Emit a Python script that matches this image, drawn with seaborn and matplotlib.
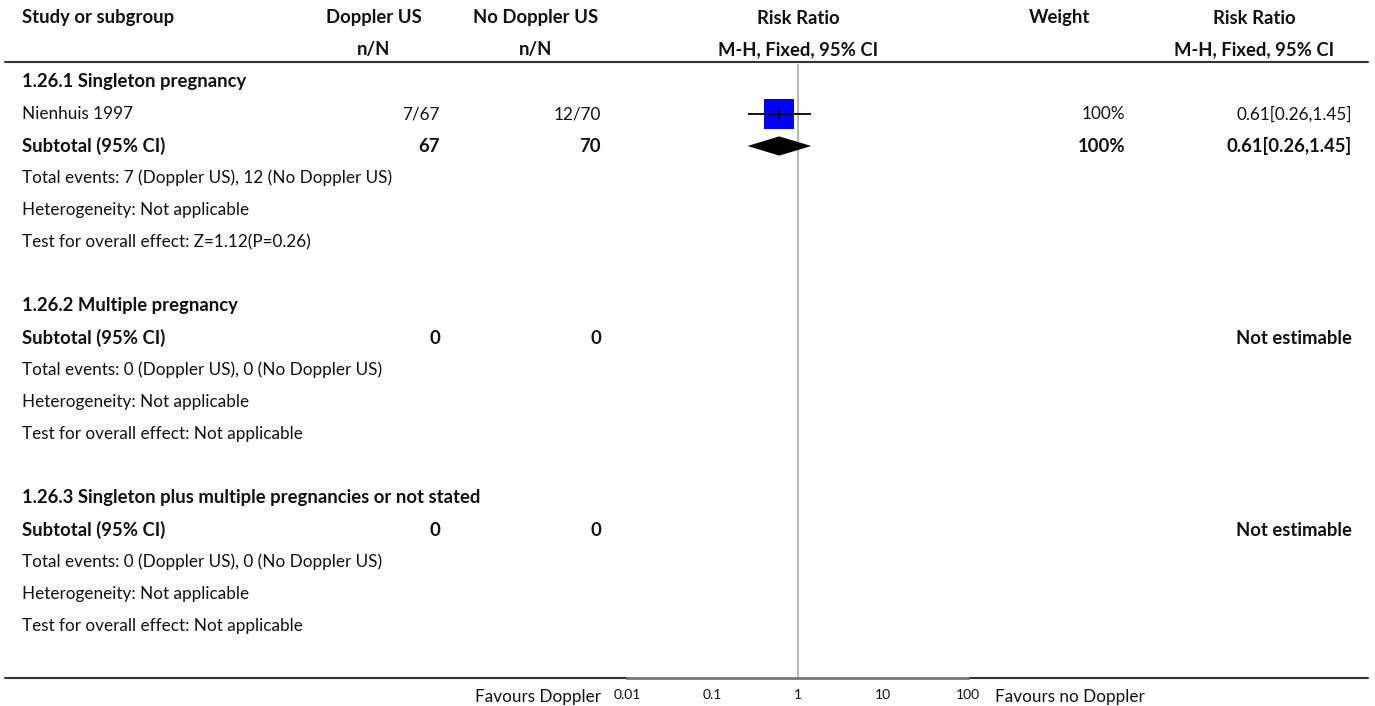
import numpy as np
import pandas as pd
import seaborn as sns
import matplotlib.pyplot as plt

# Datos del forest plot (filas de la tabla)
labels = ["1.26.1 Singleton pregnancy", "Nienhuis 1997", "Subtotal (95% CI)",
          "Total events: 7 (Doppler US), 12 (No Doppler US)",
          "Heterogeneity: Not applicable",
          "Test for overall effect: Z=1.12(P=0.26)", "",
          "1.26.2 Multiple pregnancy", "Subtotal (95% CI)",
          "Total events: 0 (Doppler US), 0 (No Doppler US)",
          "Heterogeneity: Not applicable",
          "Test for overall effect: Not applicable", "",
          "1.26.3 Singleton plus multiple pregnancies or not stated", "Subtotal (95% CI)",
          "Total events: 0 (Doppler US), 0 (No Doppler US)",
          "Heterogeneity: Not applicable",
          "Test for overall effect: Not applicable"]
bold = [1, 0, 1, 0, 0, 0, 0, 1, 1, 0, 0, 0, 0, 1, 1, 0, 0, 0]
doppler = ["", "7/67", "67", "", "", "", "", "", "0", "", "", "", "", "", "0", "", "", ""]
no_doppler = ["", "12/70", "70", "", "", "", "", "", "0", "", "", "", "", "", "0", "", "", ""]
weight = ["", "100%", "100%", "", "", "", "", "", "", "", "", "", "", "", "", "", "", ""]
rr_text = ["", "0.61[0.26,1.45]", "0.61[0.26,1.45]", "", "", "", "", "",
           "Not estimable", "", "", "", "", "", "Not estimable", "", "", ""]

# estudios individuales
study_row = [1]
study_rr = [0.61]
study_lo = [0.26]
study_hi = [1.45]
study_w = [100]

# subtotales (diamante)
sub_row = [2]
sub_rr = [0.61]
sub_lo = [0.26]
sub_hi = [1.45]

ticks = [0.01, 0.1, 1, 10, 100]
tick_labels = ["0.01", "0.1", "1", "10", "100"]

sns.set_style("white")
plt.rcParams['font.family'] = ['Lato', 'DejaVu Sans']

W, H = 1375, 706
fig = plt.figure(figsize=(W / 100, H / 100), dpi=100)

# ejes de fondo en pixeles para la tabla
ax = fig.add_axes([0, 0, 1, 1])
ax.set_xlim(0, W)
ax.set_ylim(H, 0)
ax.axis('off')

fs = 12.3     # texto normal
fsb = 13.3    # texto en negrita
txt = '#111111'
row_y = lambda i: 82 + 32 * i

# cabecera
ax.text(22, 18, "Study or subgroup", fontsize=fsb, weight='bold', va='center', color=txt)
for cx, l1, l2 in [(374, "Doppler US", "n/N"), (536, "No Doppler US", "n/N"),
                   (798, "Risk Ratio", "M-H, Fixed, 95% CI"), (1060, "Weight", ""),
                   (1254, "Risk Ratio", "M-H, Fixed, 95% CI")]:
    ax.text(cx, 18, l1, fontsize=fsb, weight='bold', ha='center', va='center', color=txt)
    ax.text(cx, 50, l2, fontsize=fsb, weight='bold', ha='center', va='center', color=txt)
ax.plot([5, 1368], [62, 62], color='#333333', lw=1.5)

# filas
for i, lab in enumerate(labels):
    y = row_y(i)
    w = 'bold' if bold[i] else 'normal'
    f = fsb if bold[i] else fs
    ax.text(22, y, lab, fontsize=f, weight=w, va='center', color=txt)
    ax.text(440, y, doppler[i], fontsize=f, weight=w, ha='right', va='center', color=txt)
    ax.text(601, y, no_doppler[i], fontsize=f, weight=w, ha='right', va='center', color=txt)
    ax.text(1125, y, weight[i], fontsize=f, weight=w, ha='right', va='center', color=txt)
    ax.text(1352, y, rr_text[i], fontsize=f, weight=w, ha='right', va='center', color=txt)

# linea inferior y etiquetas de favor
ax.plot([5, 627], [678, 678], color='#333333', lw=1.5)
ax.plot([968, 1368], [678, 678], color='#333333', lw=1.5)
ax.text(601, 697, "Favours Doppler", fontsize=fs, ha='right', va='center', color=txt)
ax.text(995, 697, "Favours no Doppler", fontsize=fs, ha='left', va='center', color=txt)

# ejes del forest plot (escala log)
fx0, fx1, fy0, fy1 = 627, 968, 64, 678
fa = fig.add_axes([fx0 / W, (H - fy1) / H, (fx1 - fx0) / W, (fy1 - fy0) / H])
fa.set_xscale('log')
fa.set_xlim(0.01, 100)
fa.set_ylim((fy1 - 82) / 32, (fy0 - 82) / 32)
fa.patch.set_alpha(0)
for s in ['top', 'left', 'right']:
    fa.spines[s].set_visible(False)
fa.spines['bottom'].set_color('#777777')
fa.spines['bottom'].set_linewidth(2)
fa.set_yticks([])
fa.set_xticks(ticks)
fa.set_xticklabels(tick_labels)
fa.xaxis.set_minor_locator(plt.NullLocator())
fa.tick_params(axis='x', direction='in', length=4, width=1, color='#333333',
               labelsize=10, pad=8, labelcolor=txt)

fa.axvline(1, color='#aaaaaa', lw=1.2, zorder=1)

df = pd.DataFrame({'row': study_row, 'rr': study_rr, 'lo': study_lo,
                   'hi': study_hi, 'w': study_w})
side_pt = 22.3 * np.sqrt(df['w'] / 100)
sns.scatterplot(data=df, x='rr', y='row', marker='s', s=side_pt ** 2, color='#0000ff',
                linewidth=0, ax=fa, zorder=2, legend=False)
fa.hlines(df['row'], df['lo'], df['hi'], color='black', lw=1.3, zorder=3)
sns.scatterplot(data=df, x='rr', y='row', marker='|', s=60, color='black',
                linewidth=1.3, ax=fa, zorder=4, legend=False)

for r, e, lo, hi in zip(sub_row, sub_rr, sub_lo, sub_hi):
    fa.fill([lo, e, hi, e], [r, r - 0.3, r, r + 0.3], color='black', zorder=3, lw=0)

fa.set_xlabel('')
fa.set_ylabel('')

plt.savefig('out.png', dpi=100)
